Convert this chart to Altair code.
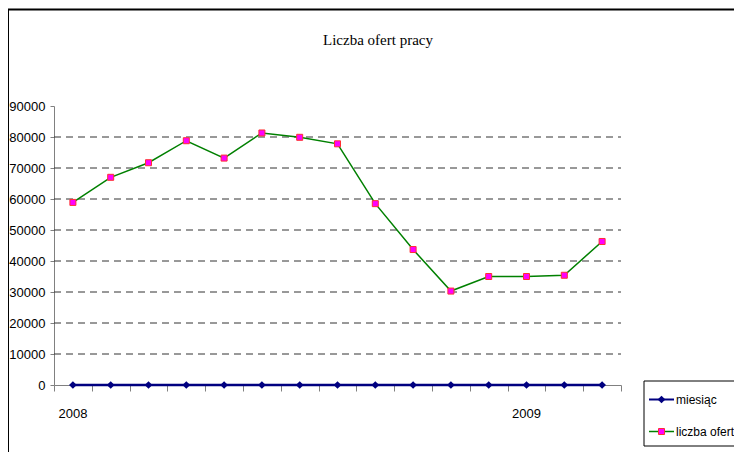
import altair as alt
import pandas as pd

months = ["I 2008", "II 2008", "III 2008", "IV 2008", "V 2008", "VI 2008", "VII 2008",
          "VIII 2008", "IX 2008", "X 2008", "XI 2008", "XII 2008", "I 2009", "II 2009", "III 2009"]
liczba_ofert = [58900, 67000, 71700, 78800, 73200, 81300, 79900, 77800,
                58500, 43700, 30300, 35000, 35000, 35400, 46300]
miesiac = [0] * 15
year_labels = ["2008", "2009"]
year_label_idx = [0, 12]
y_ticks = [0, 10000, 20000, 30000, 40000, 50000, 60000, 70000, 80000, 90000]
grid_values = [10000, 20000, 30000, 40000, 50000, 60000, 70000, 80000]

W, H = 567, 279
FONT = "Liberation Sans"
FS = 13

df = pd.DataFrame({
    "month": months,
    "pos": [i + 0.5 for i in range(len(months))],
    "oferty": liczba_ofert,
    "miesiac": miesiac,
})
years_df = pd.DataFrame({"label": year_labels, "pos": [i + 0.5 for i in year_label_idx]})
grid_df = pd.DataFrame({"v": grid_values})
one = pd.DataFrame({"a": [0]})

xscale = alt.Scale(domain=[0, 15], nice=False, zero=False)
yscale = alt.Scale(domain=[0, 90000], nice=False)

xaxis = alt.Axis(values=list(range(16)), labels=False, title=None, grid=False,
                 tickSize=6, tickColor="#808080", domainColor="#808080")
yaxis = alt.Axis(values=y_ticks, title=None, grid=False, tickSize=4, tickColor="#808080",
                 domainColor="#808080", labelFont=FONT, labelFontSize=FS, labelColor="black",
                 labelPadding=5, format="d", labelOverlap=False)

grid = alt.Chart(grid_df).mark_rule(color="#333333", strokeDash=[7, 5], strokeWidth=1).encode(
    y=alt.Y("v:Q", scale=yscale, axis=yaxis),
    x=alt.value(0), x2=alt.value(W),
)

base = alt.Chart(df)
x_enc = alt.X("pos:Q", scale=xscale, axis=xaxis)
y_m = alt.Y("miesiac:Q", scale=yscale, axis=yaxis)
y_o = alt.Y("oferty:Q", scale=yscale, axis=yaxis)

line_m = base.mark_line(color="#000080", strokeWidth=2.5).encode(x=x_enc, y=y_m)
pts_m = base.mark_point(shape="diamond", filled=True, color="#000080", size=60, opacity=1).encode(
    x=x_enc, y=y_m)
line_o = base.mark_line(color="#008000", strokeWidth=1.5).encode(x=x_enc, y=y_o)
pts_o = base.mark_point(shape="square", filled=True, fill="#FF00FF", stroke="#FF3030",
                        strokeWidth=1, size=36, opacity=1).encode(x=x_enc, y=y_o)

years = alt.Chart(years_df).mark_text(font=FONT, fontSize=FS, color="black", baseline="middle").encode(
    x=x_enc, y=alt.value(H + 29), text="label:N")

title = alt.Chart(one).mark_text(text="Liczba ofert pracy", font="Liberation Serif", fontSize=15,
                                 color="black", baseline="alphabetic").encode(
    x=alt.value(324), y=alt.value(-61))

frame = alt.Chart(one).mark_rect(fill="transparent", stroke="black", strokeWidth=2).encode(
    x=alt.value(-46), x2=alt.value(720), y=alt.value(-96.5), y2=alt.value(500))

legend_box = alt.Chart(one).mark_rect(fill="white", stroke="black", strokeWidth=1).encode(
    x=alt.value(590), x2=alt.value(720), y=alt.value(275), y2=alt.value(340))

ly1, ly2 = 293.5, 325.5
LFS = 12
leg_line1 = alt.Chart(one).mark_rule(color="#000080", strokeWidth=2).encode(
    x=alt.value(595), x2=alt.value(620), y=alt.value(ly1))
leg_pt1 = alt.Chart(one).mark_point(shape="diamond", filled=True, color="#000080", size=60, opacity=1).encode(
    x=alt.value(607.5), y=alt.value(ly1))
leg_txt1 = alt.Chart(one).mark_text(text="miesiąc", font=FONT, fontSize=LFS, align="left",
                                    baseline="middle", color="black").encode(x=alt.value(622), y=alt.value(ly1))
leg_line2 = alt.Chart(one).mark_rule(color="#008000", strokeWidth=1.5).encode(
    x=alt.value(595), x2=alt.value(620), y=alt.value(ly2))
leg_pt2 = alt.Chart(one).mark_point(shape="square", filled=True, fill="#FF00FF", stroke="#FF3030",
                                    strokeWidth=1, size=36, opacity=1).encode(x=alt.value(607.5), y=alt.value(ly2))
leg_txt2 = alt.Chart(one).mark_text(text="liczba ofert", font=FONT, fontSize=LFS, align="left",
                                    baseline="middle", color="black").encode(x=alt.value(622), y=alt.value(ly2))

chart = alt.layer(
    frame, grid, line_m, pts_m, line_o, pts_o, years, title,
    legend_box, leg_line1, leg_pt1, leg_txt1, leg_line2, leg_pt2, leg_txt2,
).properties(
    width=W, height=H,
    background="white",
    autosize=alt.AutoSizeParams(type="none"),
    padding={"left": 46, "top": 98, "right": 726 - 46 - W, "bottom": 444 - 98 - H},
).configure_view(strokeWidth=0, stroke="transparent")

chart.save("out.html", embed_options={"renderer": "svg", "actions": False})
